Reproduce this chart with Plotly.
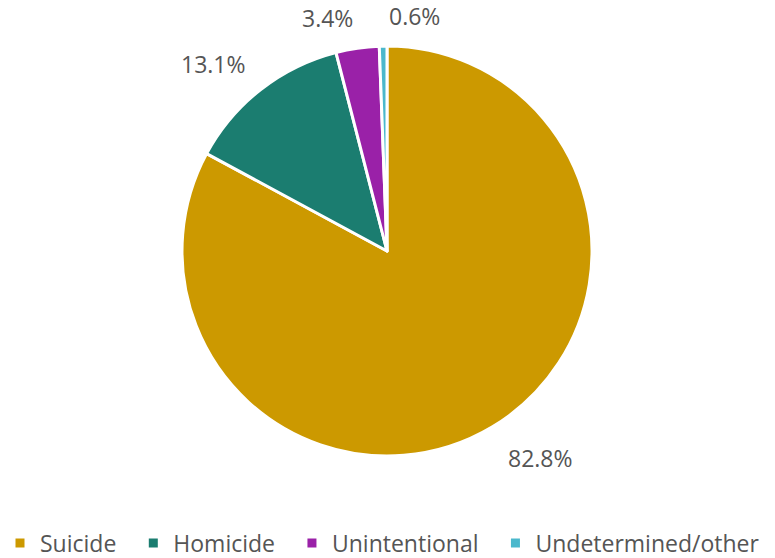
import math
import plotly.graph_objects as go

categories = ["Suicide", "Homicide", "Unintentional", "Undetermined/other"]
shares = [82.8, 13.1, 3.4, 0.6]
colors = ["#CC9900", "#1B7D70", "#9A21A8", "#4BB8CC"]

W, H = 775, 558
# pie centre and radius in pixels
CX, CY, R = 387, 251, 205
LABEL_GAP = 20
TEXT_COLOR = "#555555"

# a little trailing space widens the gap between legend entries
legend_names = [c + "\u00a0\u00a0" for c in categories[:-1]] + categories[-1:]

fig = go.Figure(
    go.Pie(
        labels=legend_names,
        values=shares,
        sort=False,
        direction="clockwise",
        rotation=0,
        marker=dict(colors=colors, line=dict(color="white", width=3)),
        textinfo="none",
        hoverinfo="label+value",
        domain=dict(
            x=[(CX - R) / W, (CX + R) / W],
            y=[1 - (CY + R) / H, 1 - (CY - R) / H],
        ),
    )
)

# percentage labels just outside each slice, placed at the slice's mid-angle
total = sum(shares)
cum = 0.0
for v in shares:
    mid = (cum + v / 2) / total * 2 * math.pi
    cum += v
    sx, sy = math.sin(mid), -math.cos(mid)
    px = CX + (R + LABEL_GAP) * sx
    py = CY + (R + LABEL_GAP) * sy
    upper = sy <= 0
    fig.add_annotation(
        x=px / W,
        y=1 - py / H,
        xref="paper",
        yref="paper",
        text=f"{v:.1f}%",
        showarrow=False,
        xanchor="left" if sx >= -0.05 else "right",
        yanchor="bottom" if upper else "top",
        xshift=4 if sx >= -0.05 else 0,
        yshift=-8 if upper else 4,
        font=dict(size=23, color=TEXT_COLOR),
    )

fig.update_layout(
    width=W,
    height=H,
    margin=dict(l=0, r=0, t=0, b=0, autoexpand=False),
    paper_bgcolor="white",
    plot_bgcolor="white",
    font=dict(family="Open Sans", size=23, color=TEXT_COLOR),
    showlegend=True,
    legend=dict(
        orientation="h",
        x=0,
        xanchor="left",
        yref="container",
        y=(H - 543) / H,
        yanchor="middle",
        font=dict(size=23, color=TEXT_COLOR),
    ),
)

fig.write_html("out.html")
